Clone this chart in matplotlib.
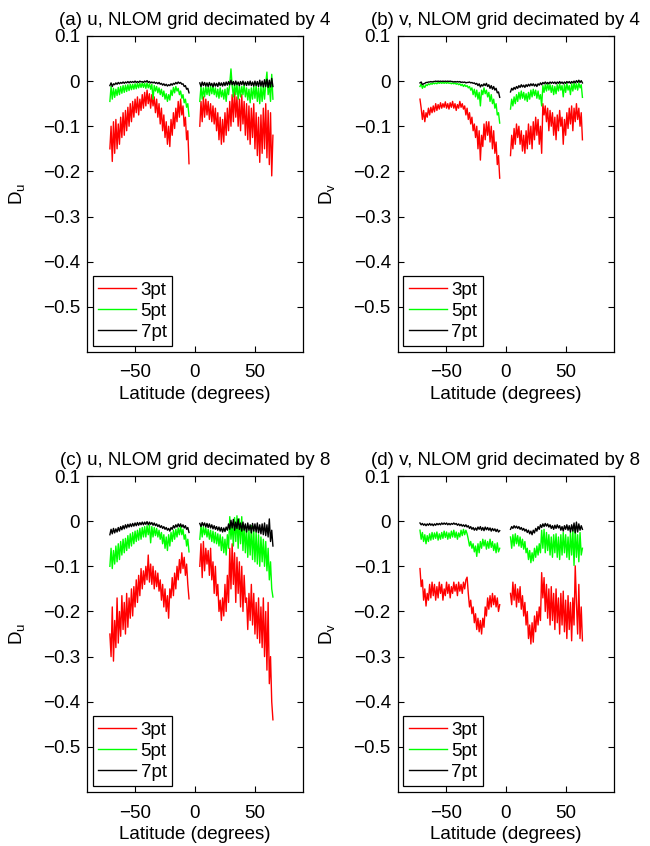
import numpy as np
import matplotlib
matplotlib.use('Agg')
import matplotlib.pyplot as plt

# latitude ranges of the two basins (southern / northern part), degrees
lat_s_u = (-71, -5)
lat_n_u = (4, 65)
lat_s_v = (-71.5, -5)
lat_n_v = (4, 64)

# (a) u, decimated by 4
a3_s = [-0.150,-0.100,-0.178,-0.090,-0.160,-0.085,-0.150,-0.095,-0.140,-0.080,-0.125,-0.070,-0.120,-0.065,-0.110,-0.058,-0.100,-0.050,-0.090,-0.045,
        -0.080,-0.040,-0.070,-0.035,-0.075,-0.040,-0.065,-0.030,-0.060,-0.025,-0.055,-0.020,-0.050,-0.028,-0.060,-0.030,-0.055,-0.035,-0.070,-0.040,
        -0.080,-0.050,-0.095,-0.060,-0.110,-0.075,-0.125,-0.090,-0.140,-0.100,-0.145,-0.085,-0.120,-0.070,-0.105,-0.060,-0.090,-0.045,-0.080,-0.040,
        -0.075,-0.055,-0.100,-0.080,-0.130,-0.110,-0.183]
a5_s = [-0.045,-0.012,-0.040,-0.016,-0.036,-0.018,-0.032,-0.014,-0.030,-0.012,-0.027,-0.010,-0.025,-0.009,-0.023,-0.008,-0.021,-0.007,-0.019,-0.007,
        -0.018,-0.006,-0.017,-0.005,-0.015,-0.005,-0.014,-0.004,-0.014,-0.005,-0.016,-0.004,-0.015,-0.006,-0.018,-0.007,-0.040,-0.010,-0.022,-0.012,
        -0.026,-0.015,-0.030,-0.018,-0.034,-0.022,-0.040,-0.028,-0.045,-0.030,-0.042,-0.020,-0.032,-0.014,-0.026,-0.012,-0.022,-0.016,-0.030,-0.022,
        -0.038,-0.030,-0.048,-0.040,-0.058,-0.050,-0.078]
a7_s = [-0.010,-0.004,-0.012,-0.006,-0.008,-0.004,-0.007,-0.003,-0.006,-0.003,-0.005,-0.002,-0.005,-0.002,-0.004,-0.001,-0.004,-0.001,-0.003,-0.001,
        -0.003,0.000,-0.003,-0.001,-0.003,0.000,-0.002,-0.001,-0.003,0.000,-0.002,0.001,-0.003,-0.001,-0.004,-0.002,-0.004,-0.002,-0.005,-0.003,
        -0.006,-0.003,-0.007,-0.005,-0.009,-0.006,-0.010,-0.007,-0.011,-0.008,-0.010,-0.006,-0.009,-0.005,-0.007,-0.003,-0.006,-0.002,-0.005,-0.003,
        -0.007,-0.006,-0.012,-0.010,-0.018,-0.016,-0.026]
a3_n = [-0.100,-0.045,-0.090,-0.035,-0.080,-0.040,-0.075,-0.045,-0.085,-0.050,-0.090,-0.055,-0.095,-0.060,-0.110,-0.070,-0.130,-0.080,-0.140,-0.085,
        -0.135,-0.070,-0.120,-0.060,-0.110,-0.045,-0.100,-0.030,-0.090,-0.020,-0.080,-0.035,-0.100,-0.040,-0.110,-0.030,-0.095,-0.045,-0.120,-0.050,
        -0.130,-0.055,-0.140,-0.060,-0.125,-0.050,-0.150,-0.070,-0.165,-0.080,-0.180,-0.075,-0.160,-0.060,-0.150,-0.050,-0.170,-0.065,-0.185,-0.070,
        -0.210,-0.120]
a5_n = [-0.045,-0.012,-0.040,-0.015,-0.035,-0.012,-0.030,-0.014,-0.032,-0.010,-0.028,-0.012,-0.030,-0.015,-0.035,-0.018,-0.038,-0.015,-0.035,-0.020,
        -0.040,-0.018,-0.045,-0.015,-0.030,-0.005,0.027,-0.010,-0.035,-0.005,-0.030,-0.008,-0.040,-0.010,-0.035,-0.012,-0.030,-0.008,-0.035,-0.015,
        -0.042,-0.018,-0.048,-0.015,-0.040,-0.012,-0.038,-0.010,-0.045,-0.015,-0.050,-0.012,-0.045,-0.010,-0.040,-0.005,0.020,-0.030,-0.008,-0.045,
        0.015,-0.040]
a7_n = [-0.004,-0.012,-0.002,-0.010,-0.003,-0.011,-0.004,-0.012,-0.003,-0.010,-0.005,-0.013,-0.004,-0.011,-0.005,-0.012,-0.003,-0.010,-0.004,-0.011,
        -0.003,-0.010,-0.002,-0.009,-0.001,-0.008,0.002,-0.008,-0.001,-0.009,0.000,-0.008,-0.002,-0.010,-0.001,-0.008,0.000,-0.009,-0.002,-0.010,
        -0.001,-0.009,0.000,-0.010,-0.002,-0.011,0.000,-0.010,-0.001,-0.012,0.002,-0.011,0.000,-0.013,0.003,-0.012,0.004,-0.014,0.002,-0.013,
        0.006,-0.012]

# (b) v, decimated by 4
b3_s = [-0.040,-0.060,-0.085,-0.065,-0.090,-0.070,-0.080,-0.060,-0.075,-0.058,-0.070,-0.055,-0.068,-0.050,-0.065,-0.052,-0.062,-0.048,-0.060,-0.050,
        -0.058,-0.046,-0.060,-0.050,-0.062,-0.048,-0.058,-0.045,-0.060,-0.050,-0.065,-0.052,-0.060,-0.045,-0.058,-0.050,-0.062,-0.055,-0.075,-0.060,
        -0.085,-0.070,-0.095,-0.080,-0.110,-0.095,-0.125,-0.100,-0.150,-0.110,-0.175,-0.120,-0.145,-0.095,-0.130,-0.090,-0.120,-0.090,-0.135,-0.100,
        -0.150,-0.110,-0.160,-0.135,-0.185,-0.165,-0.215]
b5_s = [-0.012,-0.006,-0.016,-0.010,-0.014,-0.008,-0.010,-0.006,-0.008,-0.005,-0.007,-0.004,-0.006,-0.004,-0.006,-0.003,-0.005,-0.003,-0.005,-0.003,
        -0.005,-0.003,-0.005,-0.003,-0.005,-0.004,-0.006,-0.004,-0.006,-0.004,-0.007,-0.005,-0.008,-0.006,-0.010,-0.007,-0.012,-0.008,-0.012,-0.010,
        -0.015,-0.012,-0.020,-0.015,-0.030,-0.018,-0.035,-0.020,-0.040,-0.025,-0.055,-0.020,-0.030,-0.015,-0.028,-0.020,-0.035,-0.025,-0.045,-0.030,
        -0.050,-0.040,-0.060,-0.050,-0.075,-0.070,-0.093]
b7_s = [-0.004,-0.002,-0.008,-0.006,-0.005,-0.003,-0.003,-0.002,-0.002,-0.001,-0.002,-0.001,-0.001,0.000,-0.001,0.000,-0.001,0.000,-0.001,0.000,
        -0.001,0.000,-0.001,0.000,-0.001,0.000,-0.001,-0.001,-0.002,-0.001,-0.002,-0.001,-0.002,-0.001,-0.003,-0.002,-0.003,-0.002,-0.004,-0.003,
        -0.003,-0.002,-0.004,-0.003,-0.005,-0.004,-0.007,-0.005,-0.010,-0.006,-0.013,-0.008,-0.011,-0.006,-0.010,-0.005,-0.012,-0.008,-0.016,-0.010,
        -0.018,-0.012,-0.020,-0.016,-0.026,-0.024,-0.036]
b3_n = [-0.165,-0.120,-0.150,-0.105,-0.140,-0.095,-0.125,-0.100,-0.140,-0.110,-0.155,-0.120,-0.160,-0.110,-0.150,-0.095,-0.140,-0.100,-0.150,-0.090,
        -0.130,-0.080,-0.120,-0.085,-0.140,-0.100,-0.160,-0.050,-0.075,-0.055,-0.090,-0.060,-0.110,-0.065,-0.100,-0.070,-0.120,-0.080,-0.130,-0.075,
        -0.110,-0.065,-0.100,-0.080,-0.140,-0.085,-0.120,-0.070,-0.105,-0.060,-0.095,-0.055,-0.110,-0.060,-0.090,-0.050,-0.085,-0.060,-0.100,-0.070,
        -0.130]
b5_n = [-0.062,-0.040,-0.055,-0.035,-0.050,-0.030,-0.045,-0.025,-0.040,-0.022,-0.038,-0.025,-0.042,-0.028,-0.045,-0.025,-0.040,-0.020,-0.035,-0.018,
        -0.032,-0.020,-0.038,-0.022,-0.040,-0.030,-0.055,-0.010,-0.025,-0.008,-0.022,-0.006,-0.020,-0.008,-0.025,-0.010,-0.030,-0.012,-0.028,-0.008,
        -0.022,-0.006,-0.020,-0.010,-0.035,-0.008,-0.025,-0.005,-0.020,-0.010,-0.030,-0.006,-0.022,-0.004,-0.018,-0.006,-0.020,-0.004,-0.015,-0.008,
        -0.036]
b7_n = [-0.024,-0.016,-0.020,-0.014,-0.018,-0.012,-0.016,-0.010,-0.014,-0.008,-0.013,-0.009,-0.014,-0.008,-0.012,-0.007,-0.011,-0.006,-0.010,-0.006,
        -0.011,-0.007,-0.012,-0.006,-0.009,-0.004,-0.008,-0.003,-0.006,-0.002,-0.006,-0.003,-0.006,-0.002,-0.005,-0.002,-0.005,-0.002,-0.006,-0.002,
        -0.005,-0.001,-0.005,-0.002,-0.006,-0.002,-0.005,-0.001,-0.004,-0.001,-0.005,-0.001,-0.004,0.000,-0.004,0.001,-0.003,0.002,-0.003,0.001,
        -0.004]

# (c) u, decimated by 8
c3_s = [-0.250,-0.300,-0.190,-0.310,-0.220,-0.280,-0.170,-0.270,-0.200,-0.255,-0.165,-0.240,-0.180,-0.250,-0.160,-0.235,-0.170,-0.215,-0.150,-0.210,
        -0.145,-0.190,-0.130,-0.180,-0.120,-0.165,-0.105,-0.150,-0.110,-0.140,-0.100,-0.130,-0.075,-0.135,-0.095,-0.140,-0.100,-0.150,-0.110,-0.145,
        -0.115,-0.155,-0.130,-0.175,-0.140,-0.190,-0.150,-0.200,-0.165,-0.215,-0.150,-0.170,-0.125,-0.165,-0.115,-0.150,-0.100,-0.130,-0.085,-0.115,
        -0.070,-0.105,-0.080,-0.120,-0.095,-0.140,-0.172]
c5_s = [-0.100,-0.060,-0.105,-0.065,-0.095,-0.055,-0.090,-0.050,-0.085,-0.045,-0.075,-0.040,-0.070,-0.038,-0.065,-0.032,-0.060,-0.028,-0.055,-0.025,
        -0.050,-0.022,-0.045,-0.020,-0.042,-0.016,-0.040,-0.014,-0.035,-0.012,-0.035,-0.010,-0.030,-0.008,-0.048,-0.012,-0.035,-0.014,-0.032,-0.016,
        -0.035,-0.020,-0.040,-0.025,-0.050,-0.030,-0.060,-0.035,-0.065,-0.030,-0.055,-0.025,-0.045,-0.020,-0.040,-0.018,-0.035,-0.015,-0.030,-0.012,
        -0.030,-0.018,-0.040,-0.030,-0.055,-0.040,-0.068]
c7_s = [-0.030,-0.018,-0.028,-0.016,-0.026,-0.017,-0.024,-0.014,-0.022,-0.012,-0.019,-0.010,-0.017,-0.008,-0.015,-0.007,-0.013,-0.006,-0.012,-0.005,
        -0.011,-0.004,-0.010,-0.003,-0.009,-0.003,-0.008,-0.002,-0.008,-0.002,-0.007,-0.001,-0.008,-0.002,-0.007,-0.003,-0.009,-0.004,-0.010,-0.006,
        -0.012,-0.008,-0.014,-0.010,-0.016,-0.012,-0.018,-0.014,-0.020,-0.016,-0.022,-0.014,-0.018,-0.010,-0.015,-0.008,-0.013,-0.006,-0.012,-0.006,
        -0.013,-0.008,-0.015,-0.010,-0.018,-0.014,-0.025]
c3_n = [-0.100,-0.050,-0.125,-0.045,-0.110,-0.060,-0.095,-0.065,-0.120,-0.060,-0.130,-0.090,-0.160,-0.100,-0.165,-0.140,-0.200,-0.175,-0.220,-0.170,
        -0.210,-0.140,-0.200,-0.120,-0.180,-0.060,-0.150,-0.050,-0.140,-0.070,-0.180,-0.080,-0.160,-0.090,-0.190,-0.100,-0.200,-0.120,-0.180,-0.170,
        -0.240,-0.160,-0.220,-0.140,-0.230,-0.160,-0.250,-0.180,-0.260,-0.170,-0.270,-0.190,-0.280,-0.170,-0.300,-0.200,-0.330,-0.180,-0.360,-0.300,
        -0.400,-0.440]
c5_n = [-0.040,-0.010,-0.035,-0.012,-0.030,-0.015,-0.035,-0.018,-0.040,-0.020,-0.045,-0.022,-0.048,-0.025,-0.050,-0.028,-0.055,-0.030,-0.065,-0.035,
        -0.070,-0.040,-0.075,-0.030,-0.060,0.010,-0.040,-0.005,-0.055,0.008,-0.045,0.012,-0.060,0.005,-0.050,0.010,-0.065,-0.010,-0.070,-0.015,
        -0.080,-0.020,-0.075,-0.010,-0.085,-0.020,-0.090,-0.025,-0.095,-0.030,-0.100,-0.035,-0.090,-0.040,-0.100,-0.045,-0.110,-0.060,-0.130,-0.090,
        -0.150,-0.168]
c7_n = [-0.005,-0.012,-0.003,-0.010,-0.004,-0.013,-0.005,-0.014,-0.006,-0.015,-0.008,-0.017,-0.010,-0.018,-0.012,-0.020,-0.013,-0.022,-0.014,-0.024,
        -0.015,-0.023,-0.013,-0.020,-0.006,-0.018,0.002,-0.015,0.004,-0.020,-0.002,-0.016,0.005,-0.018,-0.004,-0.022,-0.002,-0.020,-0.006,-0.024,
        -0.004,-0.020,-0.008,-0.026,-0.005,-0.022,-0.006,-0.024,-0.004,-0.026,-0.008,-0.028,-0.006,-0.030,-0.004,-0.032,-0.008,-0.035,0.005,-0.045,
        -0.020,-0.055]

# (d) v, decimated by 8
d3_s = [-0.105,-0.145,-0.130,-0.175,-0.150,-0.188,-0.160,-0.175,-0.140,-0.170,-0.135,-0.165,-0.140,-0.175,-0.145,-0.170,-0.135,-0.160,-0.140,-0.175,
        -0.150,-0.165,-0.135,-0.160,-0.140,-0.170,-0.145,-0.160,-0.135,-0.155,-0.140,-0.165,-0.135,-0.155,-0.140,-0.160,-0.135,-0.150,-0.130,-0.124,
        -0.160,-0.190,-0.175,-0.205,-0.190,-0.225,-0.205,-0.240,-0.215,-0.245,-0.220,-0.250,-0.215,-0.235,-0.190,-0.210,-0.170,-0.195,-0.165,-0.190,
        -0.160,-0.185,-0.165,-0.190,-0.170,-0.200,-0.185]
d5_s = [-0.020,-0.040,-0.025,-0.045,-0.030,-0.050,-0.032,-0.045,-0.028,-0.042,-0.025,-0.040,-0.026,-0.038,-0.024,-0.042,-0.028,-0.040,-0.025,-0.038,
        -0.022,-0.036,-0.024,-0.040,-0.026,-0.038,-0.022,-0.035,-0.020,-0.036,-0.024,-0.040,-0.026,-0.035,-0.020,-0.032,-0.018,-0.030,-0.020,-0.028,
        -0.040,-0.055,-0.045,-0.060,-0.050,-0.068,-0.055,-0.078,-0.050,-0.070,-0.045,-0.060,-0.040,-0.055,-0.042,-0.062,-0.045,-0.060,-0.040,-0.058,
        -0.045,-0.065,-0.050,-0.070,-0.048,-0.068,-0.060]
d7_s = [-0.004,-0.008,-0.005,-0.009,-0.006,-0.010,-0.006,-0.009,-0.005,-0.009,-0.006,-0.010,-0.006,-0.009,-0.005,-0.008,-0.005,-0.008,-0.004,-0.007,
        -0.004,-0.007,-0.004,-0.008,-0.005,-0.008,-0.005,-0.007,-0.004,-0.007,-0.005,-0.009,-0.006,-0.010,-0.007,-0.011,-0.008,-0.012,-0.008,-0.013,
        -0.010,-0.016,-0.012,-0.018,-0.014,-0.020,-0.015,-0.020,-0.013,-0.018,-0.012,-0.020,-0.014,-0.021,-0.013,-0.019,-0.014,-0.020,-0.015,-0.022,
        -0.016,-0.021,-0.017,-0.023,-0.018,-0.024,-0.021]
d3_n = [-0.160,-0.185,-0.135,-0.175,-0.140,-0.190,-0.150,-0.180,-0.145,-0.195,-0.165,-0.210,-0.180,-0.230,-0.200,-0.260,-0.230,-0.272,-0.225,-0.268,
        -0.210,-0.245,-0.200,-0.230,-0.190,-0.220,-0.114,-0.170,-0.125,-0.200,-0.140,-0.215,-0.150,-0.230,-0.145,-0.220,-0.160,-0.240,-0.150,-0.225,
        -0.170,-0.250,-0.160,-0.230,-0.155,-0.245,-0.175,-0.260,-0.165,-0.240,-0.180,-0.265,-0.170,-0.230,-0.099,-0.180,-0.250,-0.140,-0.260,-0.190,
        -0.265]
d5_n = [-0.035,-0.060,-0.030,-0.055,-0.028,-0.050,-0.032,-0.055,-0.035,-0.058,-0.040,-0.062,-0.045,-0.070,-0.060,-0.085,-0.065,-0.092,-0.070,-0.088,
        -0.060,-0.080,-0.055,-0.075,-0.050,-0.070,-0.020,-0.060,-0.018,-0.070,-0.025,-0.065,-0.030,-0.075,-0.035,-0.080,-0.030,-0.070,-0.028,-0.080,
        -0.035,-0.085,-0.030,-0.075,-0.025,-0.070,-0.030,-0.080,-0.035,-0.085,-0.025,-0.075,-0.020,-0.098,-0.015,-0.080,-0.030,-0.090,-0.025,-0.075,
        -0.060]
d7_n = [-0.018,-0.012,-0.016,-0.010,-0.015,-0.011,-0.016,-0.012,-0.018,-0.014,-0.020,-0.016,-0.022,-0.018,-0.025,-0.020,-0.028,-0.022,-0.030,-0.020,
        -0.026,-0.016,-0.022,-0.012,-0.018,-0.008,-0.014,-0.006,-0.012,-0.005,-0.011,-0.006,-0.013,-0.008,-0.016,-0.010,-0.018,-0.009,-0.016,-0.008,
        -0.015,-0.010,-0.020,-0.012,-0.022,-0.010,-0.018,-0.008,-0.020,-0.010,-0.024,-0.008,-0.022,-0.004,-0.026,-0.002,-0.024,-0.006,-0.020,-0.010,
        -0.018]

titles = ['(a) u, NLOM grid decimated by 4', '(b) v, NLOM grid decimated by 4',
          '(c) u, NLOM grid decimated by 8', '(d) v, NLOM grid decimated by 8']
ylabels = [r'$\mathregular{D_u}$', r'$\mathregular{D_v}$', r'$\mathregular{D_u}$', r'$\mathregular{D_v}$']
labels = ['3pt', '5pt', '7pt']
colors = ['#ff0000', '#00ff00', '#000000']
xticks = [-50, 0, 50]
xtick_labels = ['\u221250', '0', '50']
yticks = [0.1, 0, -0.1, -0.2, -0.3, -0.4, -0.5]
ytick_labels = ['0.1', '0', '\u22120.1', '\u22120.2', '\u22120.3', '\u22120.4', '\u22120.5']

panels = [
    (lat_s_u, lat_n_u, [a3_s, a5_s, a7_s], [a3_n, a5_n, a7_n]),
    (lat_s_v, lat_n_v, [b3_s, b5_s, b7_s], [b3_n, b5_n, b7_n]),
    (lat_s_u, lat_n_u, [c3_s, c5_s, c7_s], [c3_n, c5_n, c7_n]),
    (lat_s_v, lat_n_v, [d3_s, d5_s, d7_s], [d3_n, d5_n, d7_n]),
]

plt.rcParams['font.family'] = ['Liberation Sans', 'DejaVu Sans']
plt.rcParams['font.size'] = 13.5
plt.rcParams['xtick.direction'] = 'in'
plt.rcParams['ytick.direction'] = 'in'

fig = plt.figure(figsize=(6.5, 8.46), dpi=100)
# axes boxes in figure fractions: left, bottom, width, height
boxes = [[0.134, 0.584, 0.332, 0.3735], [0.612, 0.584, 0.332, 0.3735],
         [0.134, 0.0638, 0.332, 0.3735], [0.612, 0.0638, 0.332, 0.3735]]

for k in range(4):
    ax = fig.add_axes(boxes[k])
    ls, ln, ys, yn = panels[k]
    for i in range(3):
        xs = np.linspace(ls[0], ls[1], len(ys[i]))
        xn = np.linspace(ln[0], ln[1], len(yn[i]))
        x = np.concatenate([xs, [np.nan], xn])
        y = np.concatenate([ys[i], [np.nan], yn[i]])
        ax.plot(x, y, color=colors[i], lw=1.0, label=labels[i])
    ax.set_xlim(-90, 90)
    ax.set_ylim(-0.6, 0.1)
    ax.set_xticks(xticks)
    ax.set_xticklabels(xtick_labels)
    ax.set_yticks(yticks)
    ax.set_yticklabels(ytick_labels)
    ax.tick_params(top=True, right=True, length=4, width=0.8)
    ax.tick_params(axis='x', pad=9)
    ax.tick_params(axis='y', pad=5)
    for s in ax.spines.values():
        s.set_linewidth(0.9)
    ax.set_title(titles[k], fontsize=13.5, pad=8)
    ax.set_xlabel('Latitude (degrees)', labelpad=3)
    ax.set_ylabel(ylabels[k])
    ax.yaxis.set_label_coords(-0.28, 0.5)
    leg = ax.legend(loc='lower left', fancybox=False, edgecolor='black', framealpha=1,
                    handlelength=2.0, handletextpad=0.25, labelspacing=0.2,
                    borderpad=0.3, borderaxespad=0.3)
    leg.get_frame().set_linewidth(0.9)

plt.savefig('out.png', dpi=100)
